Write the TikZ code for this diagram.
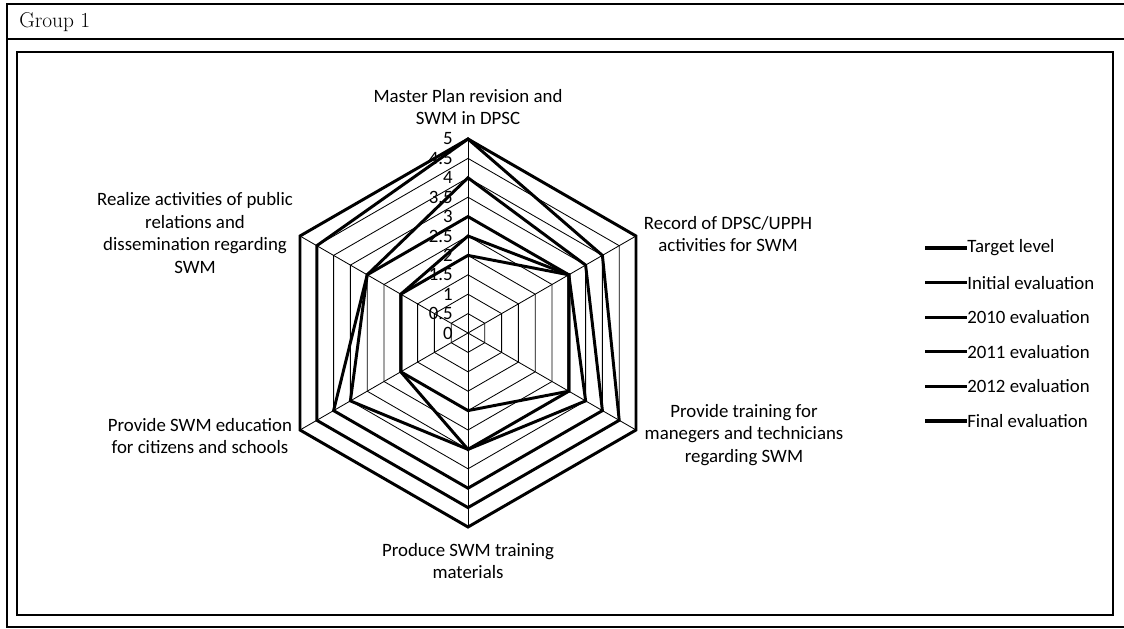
\documentclass[tikz,border=0pt]{standalone}
\usepackage{fontspec}
\newfontfamily\chartfont{Carlito}
\begin{document}
\begin{tikzpicture}[x=0.025cm,y=-0.025cm,
    frame/.style={line width=0.9pt},
    grid/.style={line width=0.6pt},
    series/.style={line width=2.1pt, line join=miter},
    axislabel/.style={font=\chartfont\fontsize{13.4}{16.2}\selectfont, align=center, inner sep=0pt},
    ticklabel/.style={font=\chartfont\fontsize{13.4}{16}\selectfont, anchor=east, inner sep=0pt},
    legendtext/.style={font=\chartfont\fontsize{13.4}{16}\selectfont, anchor=west, inner sep=0pt}]
  \useasboundingbox (0,0) rectangle (1124,629);
  % frame and title
  \draw[frame] (1130,4) -- (7,4) -- (7,627) -- (1130,627);
  \draw[frame] (7,39) -- (1130,39);
  \node[anchor=west, inner sep=0pt, font=\fontsize{15.2}{18}\selectfont] (title) at (19,22) {Group 1};
  \draw[frame] (17,52) rectangle (1113,615);
  % radar chart
  \begin{scope}[shift={(468,333)}, yscale=-1]
    \coordinate (c) at (0,0);
    \foreach \i in {1,...,10}
      \draw[grid] (90:{19.4*\i}) -- (30:{19.4*\i}) -- (-30:{19.4*\i}) -- (-90:{19.4*\i})
        -- (-150:{19.4*\i}) -- (150:{19.4*\i}) -- cycle;
    \foreach \a [count=\k] in {90,30,-30,-90,-150,150} {
      \coordinate (ax\k) at (\a:194);
      \draw[grid] (c) -- (ax\k);
    }
    % target, initial, 2010, 2011, 2012, final
    \foreach \t/\ur/\lr/\b/\ll/\ul in {5/5/5/5/5/5, 2/3/3/2/2/2, 2.5/3/3/3/2/2,
        3/3/3.5/3/3.5/3, 4/3.5/4/4/4/3, 5/4/4.5/4.5/4.5/4.5}
      \draw[series] (90:{38.8*\t}) -- (30:{38.8*\ur}) -- (-30:{38.8*\lr}) -- (-90:{38.8*\b})
        -- (-150:{38.8*\ll}) -- (150:{38.8*\ul}) -- cycle;
    \foreach \v in {0,0.5,1,1.5,2,2.5,3,3.5,4,4.5,5}
      \node[ticklabel] (tick\v) at (-15,{38.8*\v}) {\v};
  \end{scope}
  % axis labels
  \node[axislabel] (lmaster) at (468,107) {Master Plan revision and\\SWM in DPSC};
  \node[axislabel] (lrecord) at (728,234) {Record of DPSC/UPPH\\activities for SWM};
  \node[axislabel] (ltraining) at (744,435) {Provide training for\\manegers and technicians\\regarding SWM};
  \node[axislabel] (lproduce) at (468,561) {Produce SWM training\\materials};
  \node[axislabel] (leducation) at (200,436) {Provide SWM education\\for citizens and schools};
  \node[axislabel] (lrealize) at (195,233) {Realize activities of public\\relations and\\dissemination regarding\\SWM};
  % legend
  \foreach \name [count=\k] in {Target level,Initial evaluation,2010 evaluation,
      2011 evaluation,2012 evaluation,Final evaluation} {
    \coordinate (key\k) at (925,{248+34.6*(\k-1)});
    \node[legendtext] (leg\k) at (967,{248+34.6*(\k-1)}) {\name};
    \draw[line width=2.4pt] (key\k) -- (leg\k.west);
  }
\end{tikzpicture}
\end{document}
